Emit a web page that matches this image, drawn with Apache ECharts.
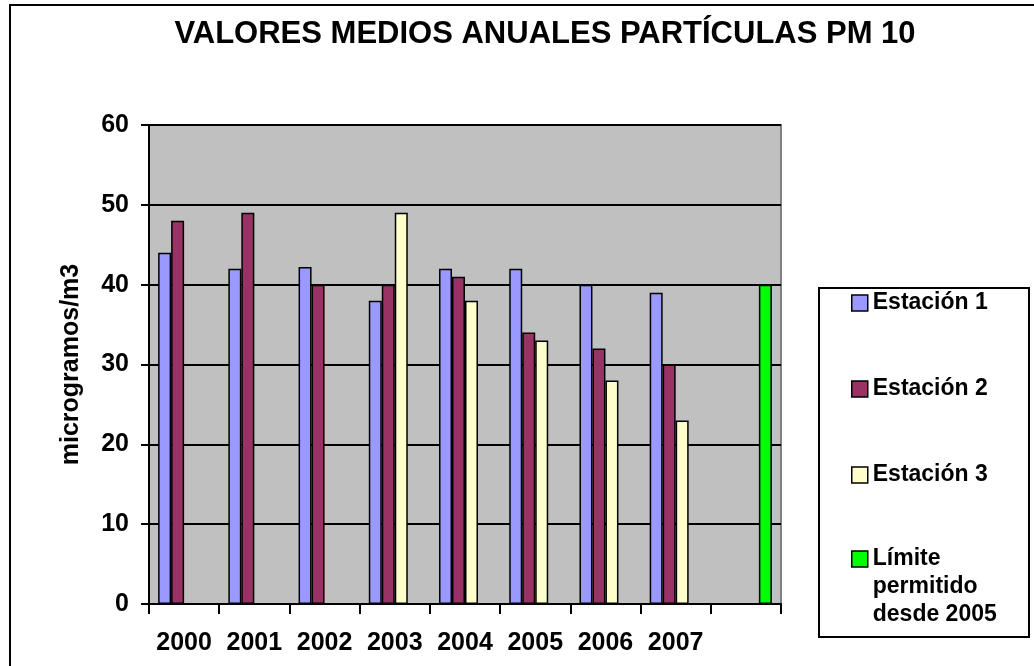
<!DOCTYPE html>
<html>
<head>
<meta charset="utf-8">
<title>PM 10</title>
<script src="https://cdn.jsdelivr.net/npm/echarts@6/dist/echarts.min.js"></script>
<style>
  html, body { margin: 0; padding: 0; background: #fff; }
  #chart { width: 1034px; height: 666px; }
</style>
</head>
<body>
<div id="chart"></div>
<script>
  // datos
  var years = ['2000', '2001', '2002', '2003', '2004', '2005', '2006', '2007', ''];
  var estacion1 = [44, 42, 42.2, 38, 42, 42, 40, 39, null];
  var estacion2 = [48, 49, 40, 40, 41, 34, 32, 30, null];
  var estacion3 = [null, null, null, 49, 38, 33, 28, 23, null];
  var limite = [null, null, null, null, null, null, null, null, 40];
  var yTicks = [0, 10, 20, 30, 40, 50, 60];

  var fontFam = '"Liberation Sans", Arial, sans-serif';
  var chart = echarts.init(document.getElementById('chart'));

  function barSerie(name, data, color) {
    return {
      name: name,
      type: 'bar',
      data: data,
      barGap: 0,
      barCategoryGap: '26%',
      itemStyle: { color: color, borderColor: '#000', borderWidth: 1.5 },
      emphasis: { disabled: true },
      animation: false
    };
  }

  var option = {
    animation: false,
    backgroundColor: '#fff',
    textStyle: { fontFamily: fontFam },
    title: {
      text: 'VALORES MEDIOS ANUALES PARTÍCULAS PM 10',
      left: 545,
      textAlign: 'center',
      top: 19,
      padding: 0,
      textStyle: { fontFamily: fontFam, fontSize: 31, fontWeight: 'bold', color: '#000' }
    },
    graphic: [
      {
        type: 'rect', z: -10, silent: true,
        shape: { x: 10, y: 5, width: 1040, height: 700 },
        style: { fill: '#fff', stroke: '#000', lineWidth: 2 }
      },
      {
        type: 'rect', z: -5, silent: true,
        shape: { x: 819, y: 288, width: 210, height: 349 },
        style: { fill: '#fff', stroke: '#000', lineWidth: 2 }
      }
    ],
    legend: [
      {
        data: ['Estación 1', 'Estación 2', 'Estación 3'],
        orient: 'vertical',
        left: 851,
        top: 289,
        padding: 0,
        itemGap: 58,
        itemWidth: 16,
        itemHeight: 16,
        icon: 'rect',
        itemStyle: { borderColor: '#000', borderWidth: 1.5 },
        textStyle: { fontFamily: fontFam, fontSize: 23, fontWeight: 'bold', color: '#000', lineHeight: 28 }
      },
      {
        data: ['Límite permitido desde 2005'],
        orient: 'vertical',
        left: 851,
        top: 489,
        padding: 0,
        itemWidth: 16,
        itemHeight: 16,
        icon: 'rect',
        itemStyle: { borderColor: '#000', borderWidth: 1.5 },
        formatter: function () { return '\n\nLímite\npermitido\ndesde 2005'; },
        textStyle: { fontFamily: fontFam, fontSize: 23, fontWeight: 'bold', color: '#000', lineHeight: 28 }
      }
    ],
    grid: {
      left: 149, top: 125, right: 253, bottom: 62,
      show: true,
      backgroundColor: '#c0c0c0',
      borderColor: '#808080',
      borderWidth: 2
    },
    xAxis: {
      type: 'category',
      data: years,
      axisLine: { lineStyle: { color: '#000', width: 2 } },
      axisTick: { show: true, interval: 0, length: 10, lineStyle: { color: '#000', width: 2 } },
      axisLabel: {
        interval: 0,
        margin: 27,
        fontFamily: fontFam, fontSize: 25, fontWeight: 'bold', color: '#000'
      }
    },
    yAxis: {
      type: 'value',
      min: yTicks[0],
      max: yTicks[yTicks.length - 1],
      interval: 10,
      name: 'microgramos/m3',
      nameLocation: 'middle',
      nameGap: 65,
      nameTextStyle: { fontFamily: fontFam, fontSize: 25, fontWeight: 'bold', color: '#000' },
      axisLine: { show: true, lineStyle: { color: '#000', width: 2 } },
      axisTick: { show: true, length: 8, lineStyle: { color: '#000', width: 2 } },
      axisLabel: {
        margin: 20,
        fontFamily: fontFam, fontSize: 25, fontWeight: 'bold', color: '#000'
      },
      splitLine: { show: true, lineStyle: { color: '#000', width: 2 } }
    },
    series: [
      barSerie('Estación 1', estacion1, '#9999ff'),
      barSerie('Estación 2', estacion2, '#993366'),
      barSerie('Estación 3', estacion3, '#ffffcc'),
      barSerie('Límite permitido desde 2005', limite, '#00ff00')
    ]
  };

  chart.setOption(option);
</script>
</body>
</html>
